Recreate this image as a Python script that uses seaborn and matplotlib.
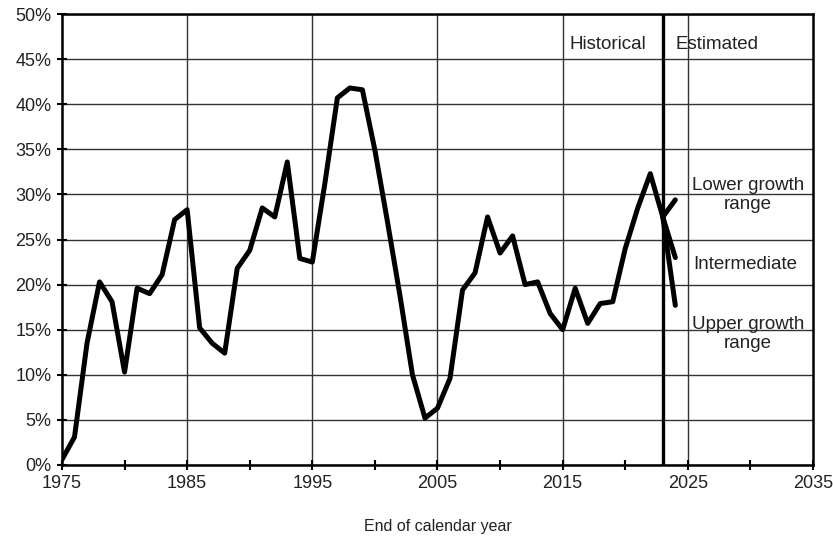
import numpy as np
import pandas as pd
import matplotlib
matplotlib.use("Agg")
import matplotlib.pyplot as plt
import seaborn as sns
from matplotlib.ticker import MultipleLocator, FuncFormatter

# historical values (percent), end of calendar year
hist_years = list(range(1975, 2024))
hist_vals = [0.6, 3.1, 13.5, 20.3, 18.1, 10.3, 19.6, 19.0, 21.1, 27.2,
             28.3, 15.2, 13.5, 12.4, 21.8, 23.8, 28.5, 27.5, 33.6, 22.9,
             22.5, 31.2, 40.7, 41.8, 41.6, 34.9, 27.0, 18.8, 10.0, 5.2,
             6.3, 9.6, 19.4, 21.3, 27.5, 23.5, 25.4, 20.0, 20.3, 16.8,
             15.0, 19.6, 15.7, 17.9, 18.1, 24.0, 28.5, 32.3, 27.5]

# estimated branches
est_years = [2023, 2024]
lower_vals = [27.5, 29.4]
inter_vals = [27.5, 23.0]
upper_vals = [27.5, 17.7]

sns.set_style("white")
plt.rcParams['font.family'] = ['Liberation Sans', 'DejaVu Sans']

hist = pd.DataFrame({'year': hist_years, 'value': hist_vals})
est = pd.concat([
    pd.DataFrame({'year': est_years, 'value': lower_vals, 'scenario': 'Lower growth range'}),
    pd.DataFrame({'year': est_years, 'value': inter_vals, 'scenario': 'Intermediate'}),
    pd.DataFrame({'year': est_years, 'value': upper_vals, 'scenario': 'Upper growth range'}),
])

fig = plt.figure(figsize=(8.33, 5.39), dpi=100)
ax = fig.add_axes([0.0744, 0.1373, 0.9016, 0.8367])

sns.lineplot(data=hist, x='year', y='value', color='black', linewidth=3.6, ax=ax)
for name, grp in est.groupby('scenario'):
    sns.lineplot(data=grp, x='year', y='value', color='black', linewidth=3.6, ax=ax)

ax.set_xlim(1975, 2035)
ax.set_ylim(0, 50)
ax.yaxis.set_major_locator(MultipleLocator(5))
ax.yaxis.set_major_formatter(FuncFormatter(lambda v, p: f"{v:.0f}%"))
ax.set_xticks([1975, 1985, 1995, 2005, 2015, 2025, 2035])
ax.set_xticks([1980, 1990, 2000, 2010, 2020, 2030], minor=True)

ax.grid(True, axis='y', color='#333333', linewidth=1)
for yr in [1985, 1995, 2005, 2015, 2025]:
    ax.axvline(yr, color='#333333', linewidth=1, zorder=0)
ax.axvline(2023, color='black', linewidth=2.4)

for s in ax.spines.values():
    s.set_color('black')
    s.set_linewidth(1.8)

ax.tick_params(axis='y', left=True, direction='inout', length=7, width=1.5,
               labelsize=13, colors='black', labelcolor='#222222', pad=4)
ax.tick_params(axis='x', which='both', bottom=True, direction='inout', length=7, width=1.5,
               labelsize=13, colors='black', labelcolor='#222222', pad=4)

ax.set_xlabel('End of calendar year', fontsize=11.5, labelpad=19, color='#222222')
ax.set_ylabel('')

ax.text(2018.6, 46.6, 'Historical', ha='center', va='center', fontsize=13.5, color='#222222')
ax.text(2027.3, 46.6, 'Estimated', ha='center', va='center', fontsize=13.5, color='#222222')
ax.text(2029.8, 29.9, 'Lower growth\nrange', ha='center', va='center', fontsize=13.5,
        linespacing=1.15, color='#222222')
ax.text(2029.55, 22.2, 'Intermediate', ha='center', va='center', fontsize=13.5, color='#222222')
ax.text(2029.8, 14.5, 'Upper growth\nrange', ha='center', va='center', fontsize=13.5,
        linespacing=1.15, color='#222222')

fig.savefig('out.png', dpi=100)
